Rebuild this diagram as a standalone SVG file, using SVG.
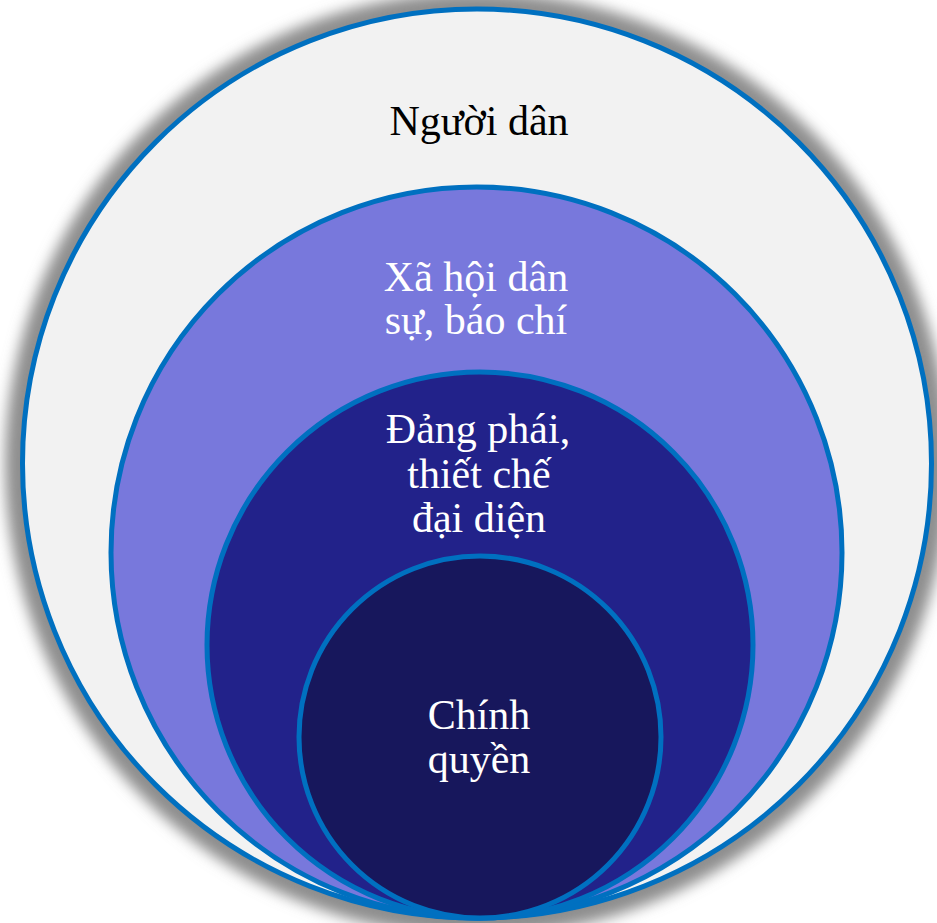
<svg xmlns="http://www.w3.org/2000/svg" width="937" height="923" viewBox="0 0 937 923">
<style>
.ring{stroke:#0070C0;stroke-width:5}
.t{font-family:"Liberation Serif","Times New Roman",serif;font-size:42px;text-anchor:middle}
.w{fill:#FFFFFF}
.k{fill:#000000}
</style>
<defs>
<filter id="sh" x="-10%" y="-10%" width="120%" height="120%">
<feGaussianBlur stdDeviation="7"/>
</filter>
</defs>
<rect width="937" height="923" fill="#FFFFFF"/>
<circle cx="477" cy="464" r="472" fill="#8E8E8E" filter="url(#sh)"/>
<g id="nguoi-dan">
<circle class="ring" cx="477" cy="463.5" r="454.5" fill="#F2F2F2"/>
<text class="t k" x="479" y="135">Người dân</text>
</g>
<g id="xa-hoi-dan-su">
<circle class="ring" cx="476.5" cy="552.5" r="365.5" fill="#7878DC"/>
<text class="t w" x="476" y="291">Xã hội dân</text>
<text class="t w" x="476" y="334">sự, báo chí</text>
</g>
<g id="dang-phai">
<circle class="ring" cx="480" cy="645" r="273" fill="#22228A"/>
<text class="t w" x="478" y="443">Đảng phái,</text>
<text class="t w" x="479" y="488">thiết chế</text>
<text class="t w" x="479" y="532">đại diện</text>
</g>
<g id="chinh-quyen">
<circle class="ring" cx="480" cy="737" r="181" fill="#17175C"/>
<text class="t w" x="479" y="729">Chính</text>
<text class="t w" x="479" y="773">quyền</text>
</g>
<g id="connectors"/>
</svg>
